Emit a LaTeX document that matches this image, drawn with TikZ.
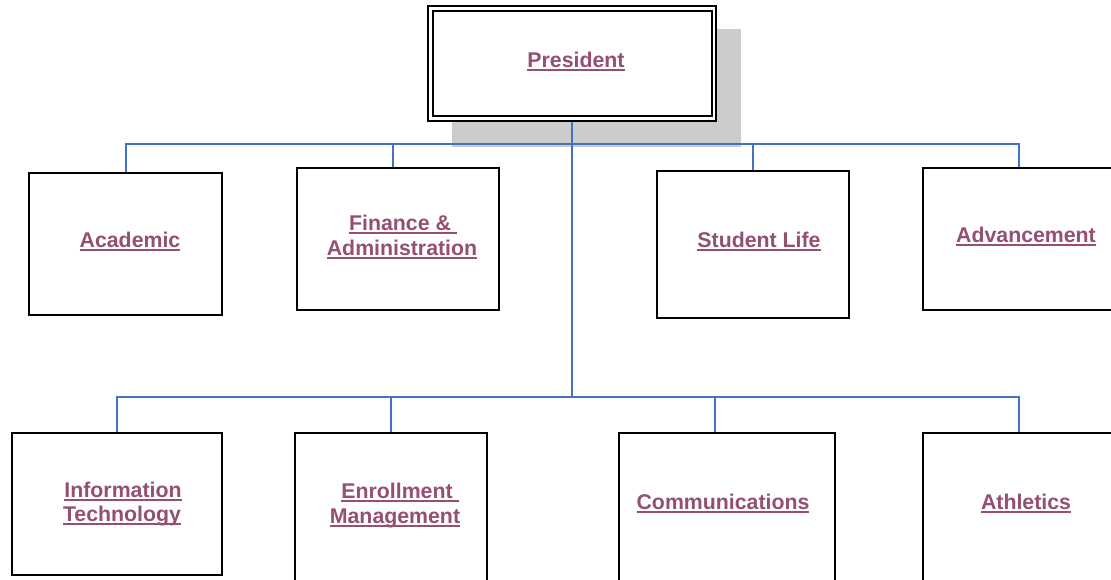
\documentclass[tikz,border=0pt]{standalone}
\usepackage{fontspec}
\setmainfont{Liberation Sans}
\definecolor{linkc}{HTML}{954F72}
\definecolor{connc}{HTML}{4472C4}
\definecolor{shadowc}{HTML}{CCCCCC}
\newcommand\myul[1]{\setbox0=\hbox{#1}\rlap{\copy0}\rule[-3.6pt]{\wd0}{2.1pt}}
\begin{document}
\begin{tikzpicture}[x=1pt,y=-1pt,
  unitbox/.style={draw=black,line width=1.7pt,fill=white,rectangle,inner sep=0pt},
  lbl/.style={text=linkc,font=\fontsize{21.3}{25}\selectfont\bfseries,inner sep=0pt,anchor=base},
  conn/.style={draw=connc,line width=2pt}]
\useasboundingbox (0,0) rectangle (1111,579);
\fill[white] (0,0) rectangle (1111,579);
% shadow
\fill[shadowc] (452,29) rectangle (741,147);
% president
\node[unitbox,minimum width=288pt,minimum height=115pt] (pres) at (572,63.5) {};
\node[draw=black,line width=1.7pt,rectangle,inner sep=0pt,minimum width=279pt,minimum height=105pt] (presin) at (572.5,63.5) {};
\node[lbl] (prest) at (576,67) {\myul{President}};
% top row
\node[unitbox,minimum width=193pt,minimum height=142pt] (acad) at (125.5,244) {};
\node[unitbox,minimum width=202pt,minimum height=142pt] (fin) at (398,239) {};
\node[unitbox,minimum width=192pt,minimum height=147pt] (stud) at (753,244.5) {};
\node[unitbox,minimum width=192pt,minimum height=142pt] (adv) at (1019,239) {};
% bottom row
\node[unitbox,minimum width=210pt,minimum height=142pt] (it) at (117,504) {};
\node[unitbox,minimum width=192pt,minimum height=157pt] (enr) at (391,511.5) {};
\node[unitbox,minimum width=216pt,minimum height=152pt] (comm) at (727,509) {};
\node[unitbox,minimum width=192pt,minimum height=152pt] (ath) at (1019,509) {};
% junctions
\coordinate (bar1) at (572,144);
\coordinate (bar2) at (572,397);
% connectors
\draw[conn] (pres.south) -- (bar2);
\draw[conn] (acad.north) -- (acad.north |- bar1) -- (adv.north |- bar1) -- (adv.north);
\draw[conn] ([xshift=-5pt]fin.north) -- ([xshift=-5pt]fin.north |- bar1);
\draw[conn] (stud.north) -- (stud.north |- bar1);
\draw[conn] (it.north) -- (it.north |- bar2) -- (ath.north |- bar2) -- (ath.north);
\draw[conn] (enr.north) -- (enr.north |- bar2);
\draw[conn] ([xshift=-12pt]comm.north) -- ([xshift=-12pt]comm.north |- bar2);
% labels
\node[lbl] (acadt) at (130,247) {\myul{Academic}};
\node[lbl] (fint1) at (403,230) {\myul{Finance \&\ }};
\node[lbl] (fint2) at (402,255) {\myul{Administration}};
\node[lbl] (studt) at (759,247) {\myul{Student Life}};
\node[lbl] (advt) at (1026,242) {\myul{Advancement}};
\node[lbl] (itt1) at (123,497) {\myul{Information}};
\node[lbl] (itt2) at (122,521) {\myul{Technology}};
\node[lbl] (enrt1) at (400,498) {\myul{Enrollment\ }};
\node[lbl] (enrt2) at (395,523) {\myul{Management}};
\node[lbl] (commt) at (723,509) {\myul{Communications}};
\node[lbl] (atht) at (1026,509) {\myul{Athletics}};
\end{tikzpicture}
\end{document}
